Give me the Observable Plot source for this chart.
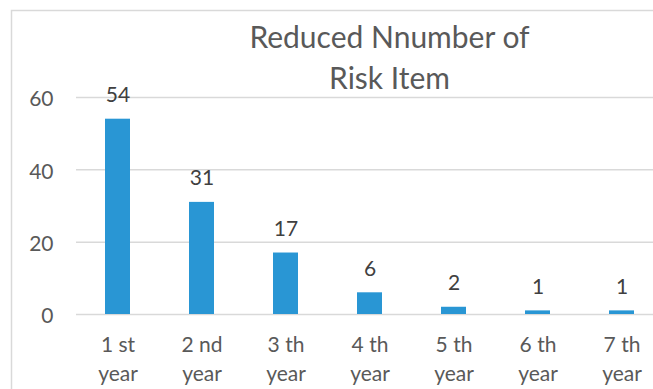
<!DOCTYPE html>
<html>
<head>
<meta charset="utf-8">
<script src="https://cdn.jsdelivr.net/npm/d3@7"></script>
<script src="https://cdn.jsdelivr.net/npm/@observablehq/plot@0.6"></script>
<style>
  html, body { margin: 0; padding: 0; background: #fff; overflow: hidden; }
  #chart { width: 653px; height: 389px; overflow: hidden; }
  #chart svg { max-width: none !important; }
</style>
</head>
<body>
<div id="chart"></div>
<script>
// Risk items removed each year
const years = ["1 st year", "2 nd year", "3 th year", "4 th year", "5 th year", "6 th year", "7 th year"];
const reduced = [54, 31, 17, 6, 2, 1, 1];
const yTicks = [0, 20, 40, 60];
const title = "Reduced Nnumber of\nRisk Item";

const rows = years.map((year, i) => ({year, value: reduced[i]}));

const font = "Lato, 'Open Sans', sans-serif";
const gray = "#D9D9D9";

const chart = Plot.plot({
  width: 680,
  height: 389,
  marginTop: 97,
  marginBottom: 75,
  marginLeft: 76,
  marginRight: 16,
  style: {fontFamily: font, background: "#fff", maxWidth: "none"},
  x: {domain: years, paddingInner: 0.7, paddingOuter: 0.35, label: null},
  y: {domain: [0, 60], label: null},
  marks: [
    // outer chart border (runs past the right and bottom edges)
    Plot.frame({stroke: gray, strokeWidth: 1.5, insetTop: -87, insetLeft: -65, insetBottom: -90, insetRight: -40}),
    Plot.gridY(yTicks, {stroke: gray, strokeOpacity: 1, strokeWidth: 1.5}),
    Plot.axisY(yTicks, {
      tickSize: 0, tickPadding: 23, fontSize: 21, fill: "#595959", dy: 2, label: null
    }),
    Plot.axisX({
      tickSize: 0, tickPadding: 17, fontSize: 21, fill: "#595959", lineHeight: 1.38,
      tickFormat: d => d.replace(" year", "\nyear"), label: null
    }),
    Plot.barY(rows, {x: "year", y: "value", fill: "#2996D4"}),
    Plot.text(rows, {
      x: "year", y: "value", text: d => String(d.value),
      lineAnchor: "bottom", dy: -17, fontSize: 21, fill: "#404040"
    }),
    Plot.text([title], {
      frameAnchor: "top", text: d => d, dx: 19, dy: -79,
      lineAnchor: "top", lineHeight: 1.37, fontSize: 30, fill: "#595959"
    })
  ]
});

document.getElementById("chart").appendChild(chart);
</script>
</body>
</html>
